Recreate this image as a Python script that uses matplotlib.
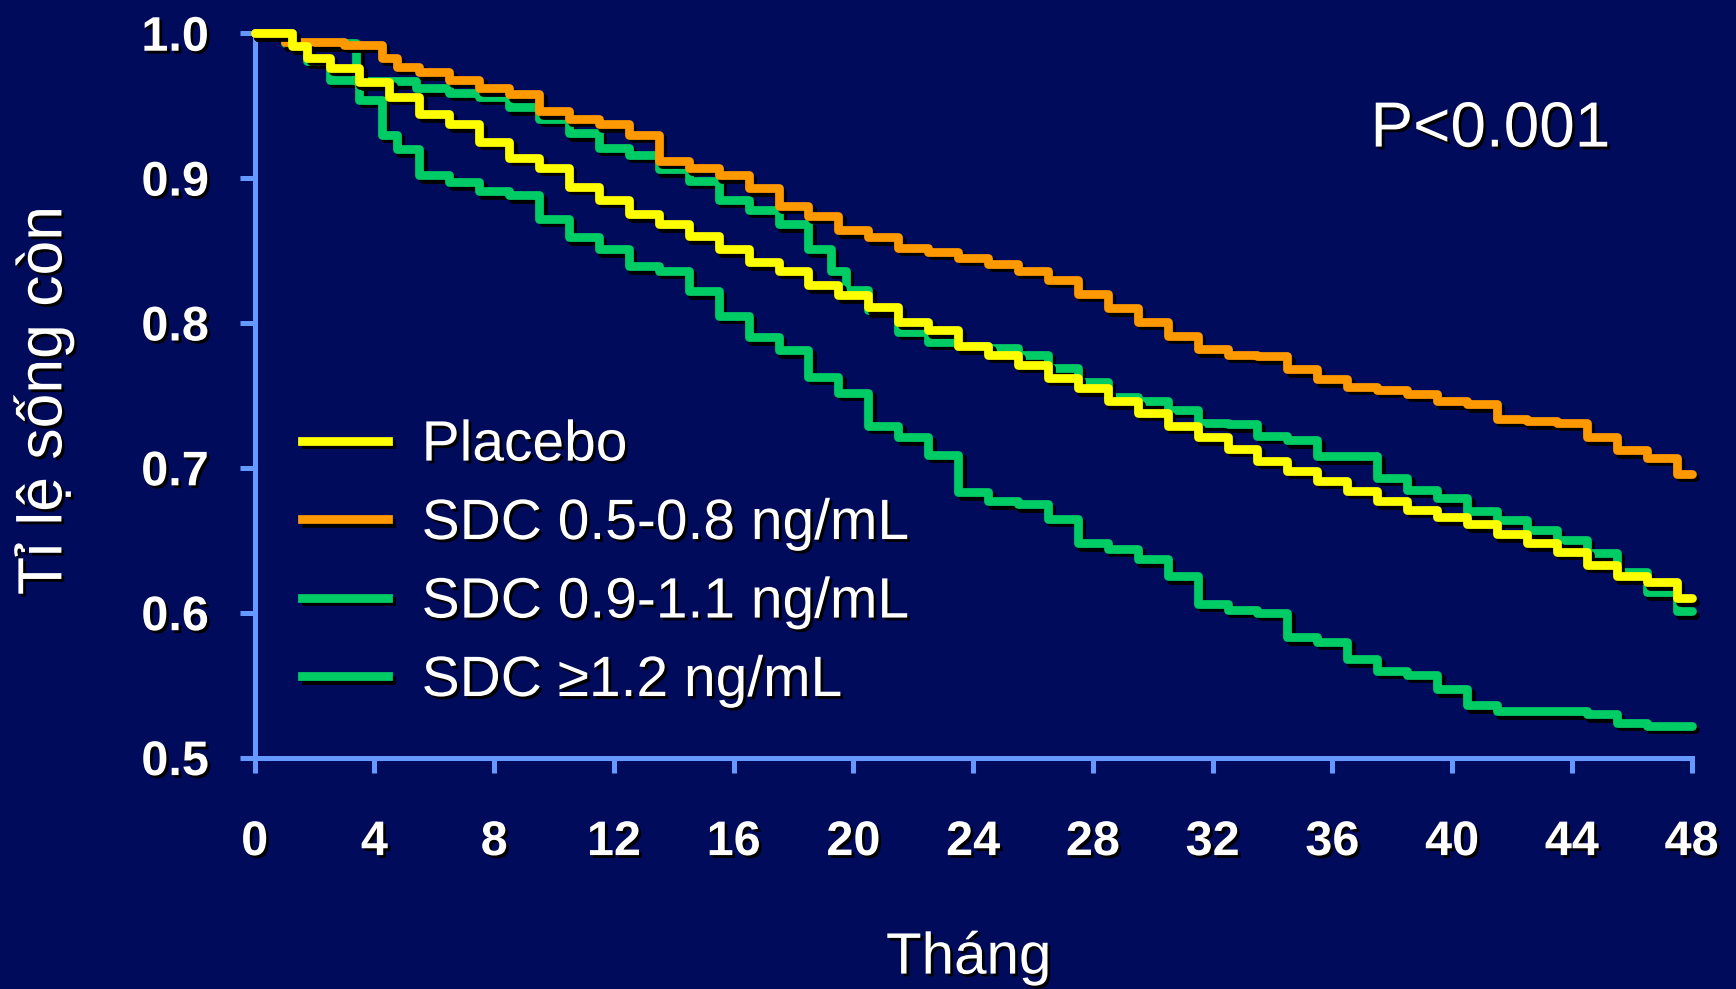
import matplotlib
matplotlib.use("Agg")
import matplotlib.pyplot as plt
import matplotlib.patheffects as pe
from matplotlib import font_manager

# survival, month by month
placebo_t = [0, 1, 1.5, 2, 3, 4, 5, 6, 7, 8, 9, 10, 11, 12, 13, 14, 15, 16, 17, 18, 19, 20,
             21, 22, 23, 24, 25, 26, 27, 28, 29, 30, 31, 32, 33, 34, 35, 36, 37, 38, 39, 40,
             41, 42, 43, 44, 45, 46, 47, 48]
placebo_s = [1.0, 1.0, 0.991, 0.983, 0.976, 0.966, 0.956, 0.944, 0.937, 0.925, 0.914, 0.907,
             0.894, 0.885, 0.875, 0.868, 0.860, 0.851, 0.842, 0.836, 0.826, 0.819, 0.811,
             0.801, 0.795, 0.784, 0.778, 0.771, 0.762, 0.755, 0.746, 0.738, 0.729, 0.721,
             0.713, 0.705, 0.698, 0.691, 0.684, 0.677, 0.671, 0.666, 0.661, 0.654, 0.648,
             0.642, 0.633, 0.625, 0.621, 0.610]

low_t = [0, 2, 4, 4.5, 5, 6, 7, 8, 9, 10, 11, 12, 13, 14, 15, 16, 17, 18, 19, 20, 21, 22,
         23, 24, 25, 26, 27, 28, 29, 30, 31, 32, 33, 34, 35, 36, 37, 38, 39, 40, 41, 42,
         43, 44, 45, 46, 47, 48]
low_s = [1.0, 0.994, 0.992, 0.983, 0.977, 0.973, 0.968, 0.962, 0.958, 0.946, 0.941, 0.937,
         0.930, 0.912, 0.907, 0.902, 0.893, 0.881, 0.874, 0.864, 0.859, 0.852, 0.849, 0.845,
         0.841, 0.836, 0.830, 0.820, 0.810, 0.801, 0.791, 0.782, 0.778, 0.777, 0.768, 0.761,
         0.756, 0.754, 0.751, 0.746, 0.744, 0.734, 0.732, 0.731, 0.721, 0.712, 0.707, 0.696]

mid_t = [0, 2, 4.8, 6, 7, 8, 9, 10, 11, 12, 13, 14, 15, 16, 17, 18, 19, 19.5, 20, 21, 22,
         23, 24, 25, 26, 27, 28, 29, 30, 31, 32, 33, 34, 35, 36, 37, 38, 39, 40, 41, 42,
         43, 44, 45, 46, 47, 48]
mid_s = [1.0, 0.993, 0.967, 0.962, 0.959, 0.956, 0.949, 0.941, 0.931, 0.921, 0.916, 0.906,
         0.898, 0.885, 0.878, 0.868, 0.851, 0.836, 0.823, 0.809, 0.794, 0.787, 0.784, 0.783,
         0.778, 0.769, 0.759, 0.749, 0.746, 0.740, 0.731, 0.730, 0.722, 0.719, 0.708, 0.708,
         0.693, 0.685, 0.679, 0.670, 0.664, 0.657, 0.650, 0.641, 0.628, 0.614, 0.601]

high_t = [0, 1, 1.5, 2, 3, 4, 4.5, 5, 6, 7, 8, 9, 10, 11, 12, 13, 14, 15, 16, 17, 18, 19, 20,
          21, 22, 23, 24, 25, 26, 27, 28, 29, 30, 31, 32, 33, 34, 35, 36, 37, 38, 39, 40,
          41, 42, 43, 44, 45, 46, 47, 48]
high_s = [1.0, 1.0, 0.991, 0.981, 0.968, 0.954, 0.930, 0.920, 0.902, 0.897, 0.891, 0.888,
          0.872, 0.859, 0.851, 0.839, 0.836, 0.822, 0.805, 0.790, 0.781, 0.763, 0.752, 0.729,
          0.721, 0.709, 0.683, 0.677, 0.675, 0.665, 0.648, 0.644, 0.637, 0.625, 0.606, 0.602,
          0.600, 0.583, 0.580, 0.568, 0.560, 0.557, 0.547, 0.536, 0.532, 0.532, 0.532, 0.530,
          0.524, 0.522, 0.522]

labels = ["Placebo", "SDC 0.5-0.8 ng/mL", "SDC 0.9-1.1 ng/mL", "SDC \u22651.2 ng/mL"]
x_ticks = list(range(0, 49, 4))
y_ticks = [0.5, 0.6, 0.7, 0.8, 0.9, 1.0]

BG = "#000B5B"
AXIS = "#6699FF"
YELLOW = "#FFFF00"
ORANGE = "#FF9900"
GREEN = "#00CC66"

installed = {f.name for f in font_manager.fontManager.ttflist}
narrow = "Liberation Sans Narrow" if "Liberation Sans Narrow" in installed else "Liberation Sans"
plain = [narrow, "DejaVu Sans"]

line_fx = [pe.SimpleLineShadow(offset=(2.5, -2.5), shadow_color="black", alpha=1.0), pe.Normal()]
text_fx = [pe.withSimplePatchShadow(offset=(2, -2), shadow_rgbFace="black", alpha=1.0)]

fig = plt.figure(figsize=(17.36, 9.89), dpi=100, facecolor=BG)
ax = fig.add_axes([0.1467, 0.2340, 0.8277, 0.7324], facecolor=BG)

lw = 6.3
style = dict(drawstyle="steps-mid", lw=lw, path_effects=line_fx, clip_on=False,
             solid_capstyle="round", solid_joinstyle="round")
ax.plot(high_t, high_s, color=GREEN, zorder=3, **style)
ax.plot(mid_t, mid_s, color=GREEN, zorder=3, **style)
ax.plot(low_t, low_s, color=ORANGE, zorder=4, **style)
ax.plot(placebo_t, placebo_s, color=YELLOW, zorder=5, **style)

ax.set_xlim(0, 48)
ax.set_ylim(0.5, 1.0)
ax.set_xticks(x_ticks)
ax.set_yticks(y_ticks)
ax.set_yticklabels([f"{v:.1f}" for v in y_ticks])

for side in ("top", "right"):
    ax.spines[side].set_visible(False)
for side in ("left", "bottom"):
    ax.spines[side].set_color(AXIS)
    ax.spines[side].set_linewidth(3.6)

ax.tick_params(axis="both", colors=AXIS, width=3.6, length=11, direction="out")
ax.tick_params(axis="x", pad=34)
ax.tick_params(axis="y", pad=22)
for lab in ax.get_xticklabels() + ax.get_yticklabels():
    lab.set_color("white")
    lab.set_fontfamily("Liberation Sans")
    lab.set_fontweight("bold")
    lab.set_fontsize(35)
    lab.set_path_effects(text_fx)

handles = [plt.Line2D([], [], color=c, lw=lw, path_effects=line_fx)
           for c in (YELLOW, ORANGE, GREEN, GREEN)]
leg = ax.legend(handles, labels, loc="upper left", bbox_to_anchor=(0.033, 0.468),
                frameon=False, borderaxespad=0, borderpad=0, handlelength=1.5,
                handletextpad=0.6, labelspacing=0.43, prop={"family": plain, "size": 41})
for t in leg.get_texts():
    t.set_color("white")
    t.set_path_effects(text_fx)

ax.text(0.86, 0.867, "P<0.001", transform=ax.transAxes, ha="center", va="center",
        color="white", fontsize=46, family=plain, path_effects=text_fx)

fig.text(0.025, 0.595, "T\u1ec9 l\u1ec7 s\u1ed1ng c\u00f2n", rotation=90, ha="center",
         va="center", color="white", fontsize=45, family=plain, path_effects=text_fx)
fig.text(0.558, 0.031, "Th\u00e1ng", ha="center", va="center", color="white",
         fontsize=42, family=plain, path_effects=text_fx)

fig.savefig("out.png", dpi=100, facecolor=BG)
